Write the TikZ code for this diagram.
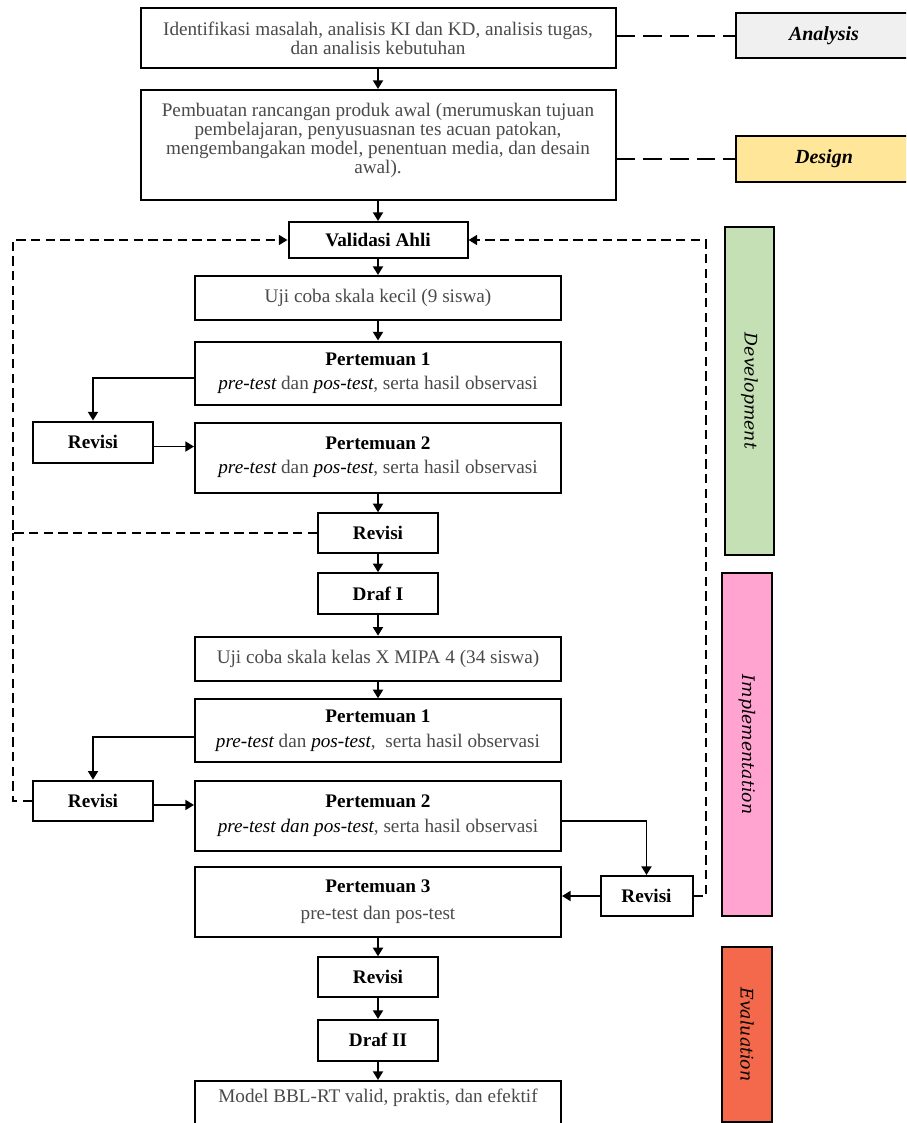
\documentclass[tikz,border=0pt]{standalone}
\usepackage{fontspec}
\setmainfont{Liberation Serif}
\newfontfamily\sidefont{DejaVu Serif}
\usetikzlibrary{arrows.meta}
\definecolor{anagray}{HTML}{F0F0F0}
\definecolor{desyel}{HTML}{FFE699}
\definecolor{devgreen}{HTML}{C5E0B4}
\definecolor{imppink}{HTML}{FFA3D0}
\definecolor{evalred}{HTML}{F4694B}
\definecolor{txtgray}{HTML}{4A4A4A}
\begin{document}
\begin{tikzpicture}[x=0.75pt,y=-0.75pt,
  wh/.style 2 args={minimum width=#1*0.75pt, minimum height=#2*0.75pt},
  box/.style={draw=black, line width=1.5pt, fill=white, align=center, inner sep=0pt,
    font=\fontsize{14.4}{14.2}\selectfont, text=txtgray},
  bt/.style={box, text=black, font=\fontsize{14.4}{14.2}\selectfont\bfseries},
  sidebox/.style={draw=black, line width=1.5pt, inner sep=0pt, align=center},
  lab/.style={sidebox, font=\fontsize{15}{16}\selectfont\bfseries\itshape},
  rlab/.style={sidebox, rotate=-90, font=\fontsize{13}{14}\sidefont\itshape},
  arr/.style={line width=1.4pt, -{Triangle[length=6.5pt,width=7.5pt]}},
  fb/.style={line width=1.3pt, dash pattern=on 7pt off 4pt},
  fba/.style={fb, -{Triangle[length=6.5pt,width=7.5pt]}},
  lk/.style={line width=1.3pt, dash pattern=on 14pt off 6pt}
]
\useasboundingbox (0,0) rectangle (906,1123);
\clip (0,0) rectangle (906,1123);

% main column
\node[box, wh={475}{60}] (b1) at (378,38)
  {Identifikasi masalah, analisis KI dan KD, analisis tugas,\\dan analisis kebutuhan};
\node[box, wh={475}{110}] (b2) at (378,145)
  {Pembuatan rancangan produk awal (merumuskan tujuan\\pembelajaran, penyusuasnan tes acuan patokan,\\mengembangakan model, penentuan media, dan desain\\awal).\\[-4pt]\mbox{}};
\node[bt, wh={179}{36}] (val) at (378,240) {Validasi Ahli};
\node[box, wh={366}{44}] (uji1) at (378,298) {Uji coba skala kecil (9 siswa)};
\node[box, wh={366}{63}] (p1) at (378,373)
  {\textcolor{black}{\bfseries Pertemuan 1}\\[4pt]\textcolor{black}{\itshape pre-test} dan \textcolor{black}{\itshape pos-test}, serta hasil observasi};
\node[bt, wh={120}{41}] (rev1) at (93,442) {Revisi};
\node[box, wh={366}{70}] (p2) at (378,457.5)
  {\textcolor{black}{\bfseries Pertemuan 2}\\[4pt]\textcolor{black}{\itshape pre-test} dan \textcolor{black}{\itshape pos-test}, serta hasil observasi};
\node[bt, wh={120}{40}] (revA) at (378,533.3) {Revisi};
\node[bt, wh={120}{41}] (draf1) at (378,593.7) {Draf I};
\node[box, wh={366}{44}] (uji2) at (378,658.7) {Uji coba skala kelas X MIPA 4 (34 siswa)};
\node[box, wh={366}{63}] (p1b) at (378,730.8)
  {\textcolor{black}{\bfseries Pertemuan 1}\\[4pt]\textcolor{black}{\itshape pre-test} dan \textcolor{black}{\itshape pos-test},\ \ serta hasil observasi};
\node[bt, wh={120}{40}] (rev2) at (93,800.7) {Revisi};
\node[box, wh={366}{70}] (p2b) at (378,815.7)
  {\textcolor{black}{\bfseries Pertemuan 2}\\[4pt]\textcolor{black}{\itshape pre-test dan pos-test}, serta hasil observasi};
\node[bt, wh={92}{40}] (rev3) at (646.5,896) {Revisi};
\node[box, wh={366}{70.6}] (p3) at (378,902)
  {\textcolor{black}{\bfseries Pertemuan 3}\\[6pt]pre-test dan pos-test};
\node[bt, wh={120}{40}] (revB) at (378,977.3) {Revisi};
\node[bt, wh={120}{40.7}] (draf2) at (378,1040.3) {Draf II};
\node[box, minimum width=366*0.75pt, anchor=north, inner ysep=6pt, text depth=40pt] (model) at (378,1080)
  {Model BBL-RT valid, praktis, dan efektif};

% side labels
\node[lab, fill=anagray, wh={176}{44.7}] (ana) at (824,35.7) {Analysis};
\node[lab, fill=desyel, wh={176}{45.7}] (des) at (824,158.9) {Design};
\node[rlab, fill=devgreen, wh={328}{49}] (dev) at (749.5,391) {Development};
\node[rlab, fill=imppink, wh={343}{49.5}] (imp) at (747,744.5) {Implementation};
\node[rlab, fill=evalred, wh={175}{49.5}] (eva) at (747,1034.5) {Evaluation};

% feedback coordinates
\coordinate (L) at (12.7,0);
\coordinate (R) at (706,0);

% dashed links to phases
\draw[lk] (ana.west -| b1.east) -- (ana.west);
\draw[lk] (des.west -| b2.east) -- (des.west);

% main arrows
\draw[arr] (b1) -- (b2);
\draw[arr] (b2) -- (val);
\draw[arr] (val) -- (uji1);
\draw[arr] (uji1) -- (p1);
\draw[arr] ([yshift=-3.75pt]p1.west) -| (rev1.north);
\draw[arr] ([yshift=-3.4pt]rev1.east) -- ([yshift=-3.4pt]rev1.east -| p2.west);
\draw[arr] (p2) -- (revA);
\draw[arr] (revA) -- (draf1);
\draw[arr] (draf1) -- (uji2);
\draw[arr] (uji2) -- (p1b);
\draw[arr] ([yshift=-4.4pt]p1b.west) -| (rev2.north);
\draw[arr] ([yshift=-3.2pt]rev2.east) -- ([yshift=-3.2pt]rev2.east -| p2b.west);
\draw[arr] ([yshift=-3.75pt]p2b.east) -| (rev3.north);
\draw[arr] (rev3.west) -- (rev3.west -| p3.east);
\draw[arr] (p3) -- (revB);
\draw[arr] (revB) -- (draf2);
\draw[arr] (draf2) -- (model);

% dashed feedback loops
\draw[fba] (revA.west) -- (revA.west -| L) |- (val.west);
\draw[fb] (rev2.west) -- (rev2.west -| L) -- (revA.west -| L);
\draw[fba] (rev3.east) -- (rev3.east -| R) |- (val.east);
\end{tikzpicture}
\end{document}
